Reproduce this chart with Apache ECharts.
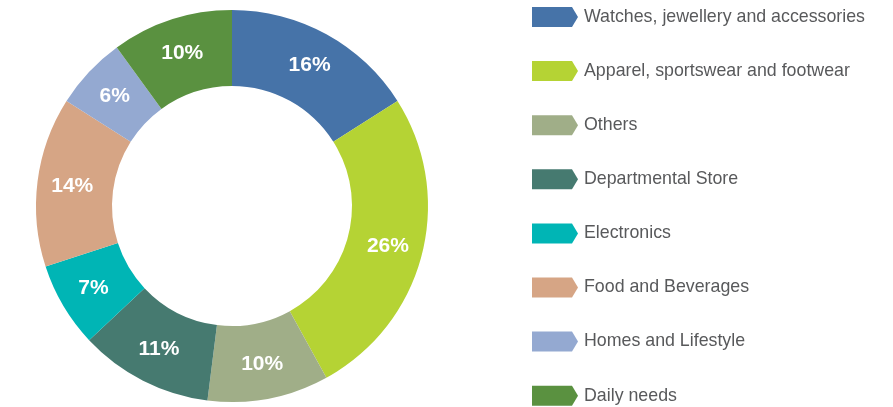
<!DOCTYPE html>
<html><head><meta charset="utf-8">
<script src="https://cdn.jsdelivr.net/npm/echarts@6/dist/echarts.min.js"></script>
<style>html,body{margin:0;padding:0;background:#fff}#c{width:893px;height:407px}</style>
</head><body><div id="c"></div>
<script>
const categories = ["Watches, jewellery and accessories","Apparel, sportswear and footwear","Others","Departmental Store","Electronics","Food and Beverages","Homes and Lifestyle","Daily needs"];
const values = [16, 26, 10, 11, 7, 14, 6, 10];
const colors = ["#4673a8","#b5d334","#a0ae88","#467a70","#00b5b5","#d6a585","#94a9d1","#5a9140"];

const chart = echarts.init(document.getElementById('c'), null, {renderer:'canvas'});
chart.setOption({
  animation:false,
  color: colors,
  legend: {
    orient:'vertical', left:532, top:7, padding:0, height:400,
    itemWidth:46, itemHeight:20, itemGap:34.1,
    icon:'path://M0,0 L40,0 L46,10 L40,20 L0,20 Z',
    textStyle:{fontFamily:'Liberation Sans, Arial, sans-serif', fontSize:17.8, color:'#58595b', padding:[0,0,0,1]},
    data: categories
  },
  series: [{
    type:'pie',
    center:[232,206],
    radius:[120,196],
    startAngle:90,
    clockwise:true,
    label:{show:true, position:'inside', formatter:'{c}%', color:'#fff', fontWeight:'bold', fontSize:21, fontFamily:'Liberation Sans, Arial, sans-serif'},
    labelLine:{show:false},
    itemStyle:{borderWidth:0},
    emphasis:{disabled:true},
    data: categories.map((n,i)=>({name:n, value:values[i]}))
  }]
});
</script></body></html>
